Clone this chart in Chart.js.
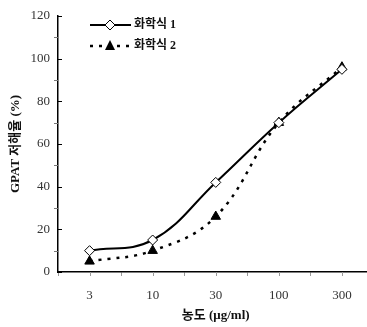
<!DOCTYPE html>
<html><head><meta charset="utf-8">
<script src="https://cdn.jsdelivr.net/npm/chart.js@4"></script>
<style>html,body{margin:0;padding:0;background:#fff;overflow:hidden;width:367px;height:327px}canvas{display:block}</style>
</head><body>
<canvas id="c" width="380" height="327"></canvas>
<script>
const categories = ['3', '10', '30', '100', '300'];
const series1Label = '화학식 1';
const series2Label = '화학식 2';
const series1 = [10, 15, 42, 70, 95];
const series2 = [5, 10, 26, 70, 96];
const yTicks = [0, 20, 40, 60, 80, 100, 120];
const yMinorTicks = [10, 30, 50, 70, 90, 110];
const xTitle = '농도 (μg/ml)';
const yTitle = 'GPAT 저해율 (%)';

const tickPlugin = {
  id: 'customTicks',
  afterDraw(chart) {
    const ctx = chart.ctx;
    const y = chart.scales.y, x = chart.scales.x;
    const ax = chart.chartArea.left;
    ctx.save();
    ctx.strokeStyle = '#000'; ctx.lineWidth = 1;
    yTicks.forEach(v => {
      const p = Math.round(y.getPixelForValue(v)) + 0.5;
      ctx.beginPath(); ctx.moveTo(ax, p); ctx.lineTo(ax + 4, p); ctx.stroke();
    });
    ctx.strokeStyle = '#777';
    yMinorTicks.forEach(v => {
      const p = Math.round(y.getPixelForValue(v)) + 0.5;
      ctx.beginPath(); ctx.moveTo(ax - 4, p); ctx.lineTo(ax, p); ctx.stroke();
    });
    const by = chart.chartArea.bottom;
    ctx.strokeStyle = '#999';
    categories.forEach((c, i) => {
      const p = Math.round(x.getPixelForValue(i)) + 0.5;
      ctx.beginPath(); ctx.moveTo(p, by); ctx.lineTo(p, by + 4); ctx.stroke();
    });
    ctx.restore();
  }
};

const legendPlugin = {
  id: 'insideLegend',
  afterDraw(chart) {
    const ctx = chart.ctx;
    ctx.save();
    ctx.strokeStyle = '#000'; ctx.lineWidth = 2; ctx.setLineDash([]);
    ctx.beginPath(); ctx.moveTo(90, 25); ctx.lineTo(131, 25); ctx.stroke();
    ctx.fillStyle = '#fff'; ctx.lineWidth = 1;
    ctx.beginPath(); ctx.moveTo(110, 20); ctx.lineTo(115, 25); ctx.lineTo(110, 30); ctx.lineTo(105, 25); ctx.closePath();
    ctx.fill(); ctx.stroke();
    ctx.lineWidth = 2.5; ctx.setLineDash([3, 6]);
    ctx.beginPath(); ctx.moveTo(90, 46); ctx.lineTo(131, 46); ctx.stroke();
    ctx.setLineDash([]);
    ctx.fillStyle = '#000';
    ctx.beginPath(); ctx.moveTo(110, 40); ctx.lineTo(115, 50); ctx.lineTo(105, 50); ctx.closePath(); ctx.fill();
    ctx.font = 'bold 12px "Liberation Serif", "Noto Sans CJK KR"';
    ctx.fillStyle = '#111'; ctx.textBaseline = 'middle'; ctx.textAlign = 'left';
    ctx.fillText(chart.data.datasets[0].label, 134, 25);
    ctx.fillText(chart.data.datasets[1].label, 134, 46);
    ctx.restore();
  }
};

new Chart(document.getElementById('c'), {
  type: 'line',
  data: {
    labels: categories,
    datasets: [
      { label: series1Label, data: series1, borderColor: '#000', borderWidth: 2, tension: 0.4,
        pointStyle: 'rectRot', pointRadius: 5, pointBackgroundColor: '#fff', pointBorderColor: '#000', pointBorderWidth: 1 },
      { label: series2Label, data: series2, borderColor: '#000', borderWidth: 2.5, borderDash: [3, 6], tension: 0.4,
        pointStyle: 'triangle', pointRadius: 5.5, pointBackgroundColor: '#000', pointBorderColor: '#000', pointBorderWidth: 1 }
    ]
  },
  options: {
    responsive: false, animation: false,
    layout: { padding: { left: 0, top: 16, right: 3, bottom: 0 } },
    plugins: { legend: { display: false }, tooltip: { enabled: false } },
    scales: {
      x: {
        offset: true,
        grid: { display: true, drawOnChartArea: false, drawTicks: true, tickLength: 4, color: '#999', offset: true },
        border: { display: true, color: '#000', width: 1.5 },
        ticks: { padding: 12, color: '#333', font: { family: 'Liberation Serif', size: 13 } },
        title: { display: true, text: xTitle, color: '#111', font: { family: '"Liberation Serif", "Noto Sans CJK KR"', size: 13, weight: 'bold' }, padding: { top: 5 } },
        afterFit(s) { s.height = 55; }
      },
      y: {
        min: 0, max: 120,
        afterBuildTicks(s) { s.ticks = yTicks.map(v => ({ value: v })); },
        grid: { display: false, drawOnChartArea: false, drawTicks: false },
        border: { display: true, color: '#000', width: 1.5 },
        ticks: { padding: 8, color: '#333', font: { family: 'Liberation Serif', size: 13 } },
        title: { display: true, text: yTitle, color: '#111', font: { family: '"Liberation Serif", "Noto Sans CJK KR"', size: 13, weight: 'bold' }, padding: { top: 8, bottom: 0 } },
        afterFit(s) { s.width = 58; }
      }
    }
  },
  plugins: [tickPlugin, legendPlugin]
});
</script>
</body></html>
